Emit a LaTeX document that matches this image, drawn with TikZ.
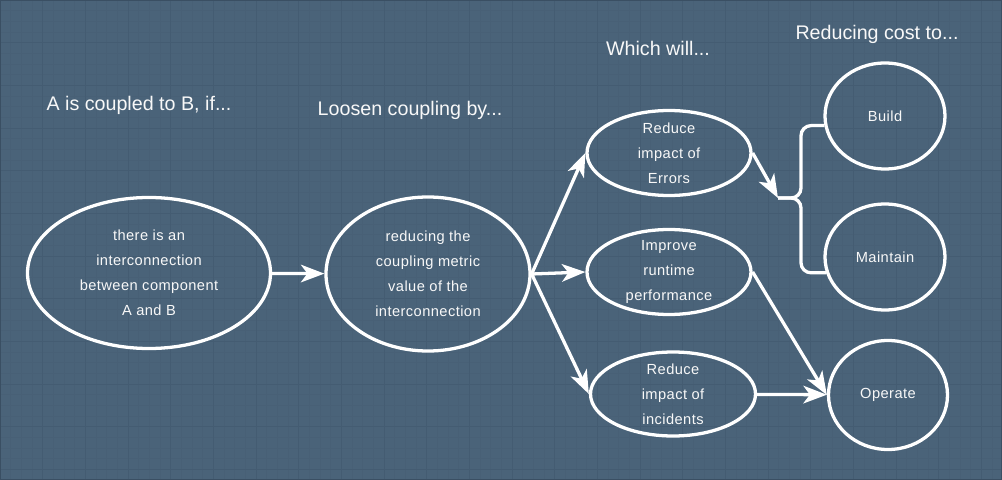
\documentclass[tikz,border=0pt]{standalone}
\usepackage{fontspec}
\setmainfont{Liberation Sans}
\newfontfamily\labelfont[LetterSpace=3]{Liberation Sans}
\usetikzlibrary{shapes.geometric, arrows.meta, positioning}
\definecolor{slate}{RGB}{74,99,121}
\definecolor{gridfine}{RGB}{72,96,118}
\definecolor{gridbold}{RGB}{68,92,114}
\definecolor{frame}{RGB}{58,79,99}
\definecolor{chalk}{RGB}{248,248,248}
\tikzstyle{bubble} = [
  ellipse,
  draw=white,
  line width=2.8pt,
  inner sep=-8pt,
  text=chalk,
  align=center,
  font=\labelfont\fontsize{12.5}{21.3}\selectfont
]
\tikzstyle{heading} = [
  inner sep=0,
  text=chalk,
  font=\fontsize{16.8}{20}\selectfont
]
\tikzstyle{arrow} = [
  white,
  line width=2.8pt,
  -{Stealth[length=20pt,width=15pt,inset=5.5pt]}
]
\tikzstyle{wire} = [
  white,
  line width=2.8pt,
  rounded corners=0.3cm
]

\begin{document}
\begin{tikzpicture}[x=0.03cm, y=-0.03cm]

    % backdrop with grid
    \useasboundingbox (0,0) rectangle (1002,480);
    \fill[slate] (0,0) rectangle (1002,480);
    \foreach \i in {0,...,94} \draw[gridfine, line width=0.8pt] (\i*10.667,0) -- (\i*10.667,480);
    \foreach \i in {0,...,45} \draw[gridfine, line width=0.8pt] (0,\i*10.667) -- (1002,\i*10.667);
    \foreach \i in {0,...,23} \draw[gridbold, line width=0.8pt] (\i*42.667,0) -- (\i*42.667,480);
    \foreach \i in {0,...,11} \draw[gridbold, line width=0.8pt] (0,\i*42.667) -- (1002,\i*42.667);
    \draw[frame, line width=1.6pt] (0,0) rectangle (1002,480);

    \node (hcause) [heading] at (139,105) {A is coupled to B, if...};
    \node (hloosen) [heading] at (410,110) {Loosen coupling by...};
    \node (hwill) [heading] at (658,48) {Which will...};
    \node (hcost) [heading] at (877,34) {Reducing cost to...};

    \node (cause) [bubble, minimum width=7.29cm, minimum height=4.53cm] at (149,273) {there is an\\interconnection\\between component\\A and B};
    \node (loosen) [bubble, minimum width=6.12cm, minimum height=4.62cm] at (428,274) {reducing the\\coupling metric\\value of the\\interconnection};
    \node (errors) [bubble, minimum width=4.92cm, minimum height=2.55cm] at (669,153) {Reduce\\impact of\\Errors};
    \node (runtime) [bubble, minimum width=4.92cm, minimum height=2.55cm] at (669,272) {Improve\\runtime\\performance};
    \node (incidents) [bubble, minimum width=4.95cm, minimum height=2.52cm] at (673,394) {Reduce\\impact of\\incidents};
    \node (build) [bubble, minimum width=3.6cm, minimum height=3.18cm] at (885,116) {Build};
    \node (maintain) [bubble, minimum width=3.6cm, minimum height=3.18cm] at (885,257) {Maintain};
    \node (operate) [bubble, minimum width=3.57cm, minimum height=3.27cm] at (888,395) {Operate};
    \coordinate (fork) at (778,198);

    \draw [arrow] (cause) -- (loosen);
    \draw [arrow] (loosen.east) -- (errors.west);
    \draw [arrow] (loosen.east) -- (runtime.west);
    \draw [arrow] (loosen.east) -- (incidents.west);
    \draw [arrow] (errors.east) -- (fork);
    \draw [arrow] (runtime.east) -- (operate.west);
    \draw [arrow] (incidents) -- (operate);
    \draw [wire] (build.189) -| (801,198) -- (fork);
    \draw [wire] (maintain.195) -| (801,198) -- (fork);

  \end{tikzpicture}
\end{document}
